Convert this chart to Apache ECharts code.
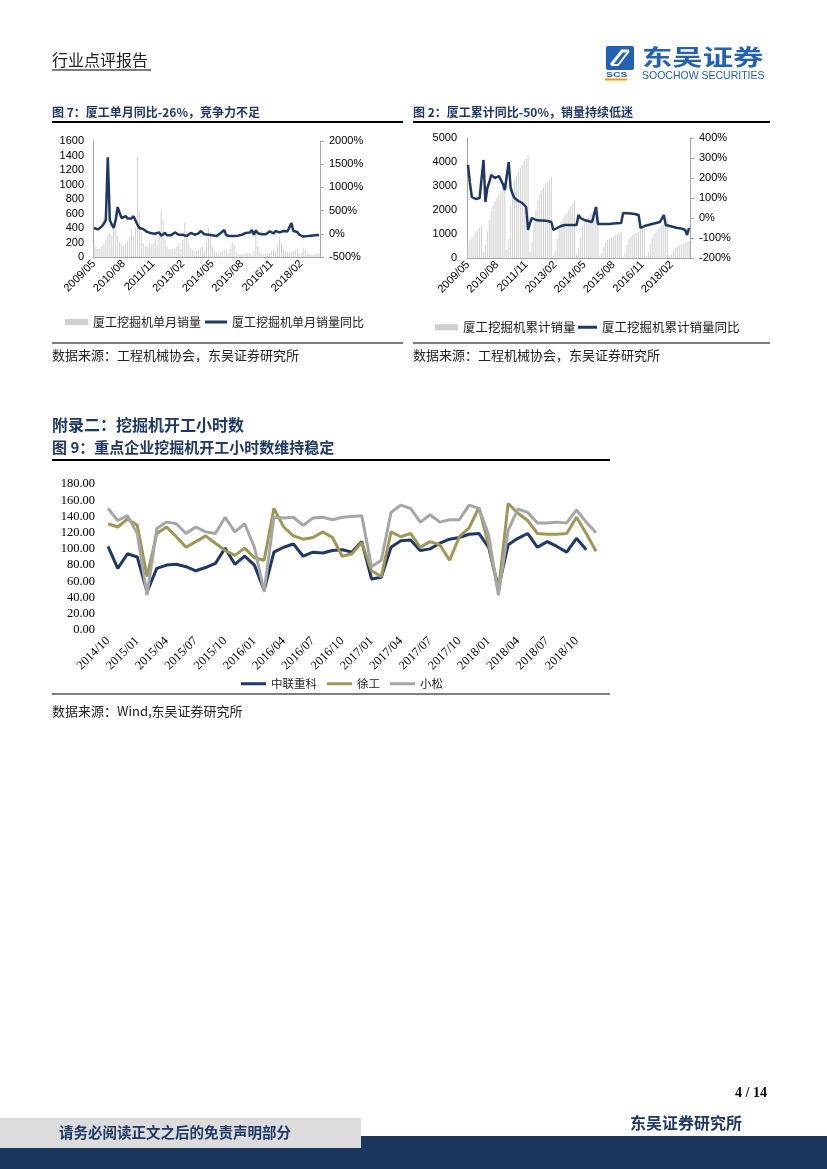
<!DOCTYPE html>
<html><head><meta charset="utf-8">
<script src="https://cdn.jsdelivr.net/npm/echarts@6/dist/echarts.min.js"></script>
<style>html,body{margin:0;padding:0;background:#fff}#c{width:827px;height:1169px}</style>
</head><body><div id="c"></div>
<script>
// ---------- DATA ----------
const monthsXG = [
'2009/05','2009/06','2009/07','2009/08','2009/09','2009/10','2009/11','2009/12',
'2010/01','2010/02','2010/03','2010/04','2010/05','2010/06','2010/07','2010/08','2010/09','2010/10','2010/11','2010/12',
'2011/01','2011/02','2011/03','2011/04','2011/05','2011/06','2011/07','2011/08','2011/09','2011/10','2011/11','2011/12',
'2012/01','2012/02','2012/03','2012/04','2012/05','2012/06','2012/07','2012/08','2012/09','2012/10','2012/11','2012/12',
'2013/01','2013/02','2013/03','2013/04','2013/05','2013/06','2013/07','2013/08','2013/09','2013/10','2013/11','2013/12',
'2014/01','2014/02','2014/03','2014/04','2014/05','2014/06','2014/07','2014/08','2014/09','2014/10','2014/11','2014/12',
'2015/01','2015/02','2015/03','2015/04','2015/05','2015/06','2015/07','2015/08','2015/09','2015/10','2015/11','2015/12',
'2016/01','2016/02','2016/03','2016/04','2016/05','2016/06','2016/07','2016/08','2016/09','2016/10','2016/11','2016/12',
'2017/01','2017/02','2017/03','2017/04','2017/05','2017/06','2017/07','2017/08','2017/09','2017/10','2017/11','2017/12',
'2018/01','2018/02','2018/03','2018/04','2018/05','2018/06','2018/07','2018/08','2018/09','2018/10','2018/11'];

// 厦工挖掘机单月销量 (台)
const salesMonthly = [
170,140,110,120,150,190,240,300,
330,290,440,380,290,210,170,150,190,220,270,380,
290,410,1380,640,340,190,150,140,190,170,190,240,
170,340,650,510,240,140,110,100,110,120,140,190,
110,230,480,360,200,120,90,80,90,100,120,140,
90,200,400,300,150,90,70,60,70,80,90,100,
60,110,200,170,80,50,40,40,45,50,60,70,
40,90,330,150,70,50,40,45,50,60,80,100,
70,150,280,200,110,80,70,60,70,80,90,110,
40,60,130,90,50,40,30,35,40,45,50];

// 厦工挖掘机单月销量同比 (%)
const yoyMonthly = [
125,100,95,100,160,220,300,1650,
300,200,125,300,577,450,340,360,380,330,290,330,
380,405,200,125,150,100,60,40,20,10,-10,0,
-20,30,-40,-20,20,-30,-50,-30,10,30,0,-20,
-40,-20,-30,-50,-10,20,60,-20,-40,10,60,20,
-10,-30,-20,-40,-30,-60,-50,-20,10,40,80,-30,
-40,-50,-60,-45,-50,-40,-30,-20,0,20,60,30,
80,-20,70,10,30,-10,-30,-10,20,50,40,10,
60,80,30,40,60,20,50,80,230,60,30,40,
-20,-50,-60,-40,-50,-60,-40,-50,-30,-40,-26];

// 厦工挖掘机累计销量 (台)
const salesCum = [
600,750,850,950,1050,1150,1250,1350,
250,550,1100,1600,1950,2200,2350,2500,2650,2800,2950,3150,
350,800,2200,2900,3250,3450,3600,3750,3900,4050,4150,4290,
250,650,1350,2000,2400,2650,2800,2950,3050,3150,3250,3350,
100,300,800,1250,1500,1650,1800,1900,2000,2150,2250,2400,
150,400,900,1300,1500,1600,1700,1800,1900,1950,2050,2150,
60,200,450,650,750,800,850,900,950,1000,1050,1100,
50,200,550,800,900,950,1000,1050,1100,1150,1250,1350,
80,250,600,850,1000,1100,1200,1300,1380,1450,1520,1600,
40,120,300,420,480,520,560,600,640,680,720];

// 厦工挖掘机累计销量同比 (%)
const yoyCum = [
265,175,105,100,95,100,100,110,
290,80,150,180,215,210,200,205,210,205,170,140,
150,280,150,120,100,90,85,80,75,65,55,-60,
-25,0,-10,-10,-12,-12,-12,-12,-10,-15,-15,-20,
-60,-55,-50,-45,-40,-35,-35,-35,-35,-35,-35,-35,
-35,15,0,-5,-10,-15,-15,-18,-20,-20,55,-30,
-30,-30,-30,-30,-30,-30,-28,-27,-27,-26,-25,-25,
25,25,24,23,22,22,20,18,15,-50,-45,-40,
-38,-35,-33,-30,-28,-25,-22,-20,-20,15,-35,-38,
-40,-42,-45,-48,-50,-50,-52,-55,-60,-85,-50];

// 图9 开工小时数
const months9 = ['2014/10','2014/11','2014/12',
'2015/01','2015/02','2015/03','2015/04','2015/05','2015/06','2015/07','2015/08','2015/09','2015/10','2015/11','2015/12',
'2016/01','2016/02','2016/03','2016/04','2016/05','2016/06','2016/07','2016/08','2016/09','2016/10','2016/11','2016/12',
'2017/01','2017/02','2017/03','2017/04','2017/05','2017/06','2017/07','2017/08','2017/09','2017/10','2017/11','2017/12',
'2018/01','2018/02','2018/03','2018/04','2018/05','2018/06','2018/07','2018/08','2018/09','2018/10','2018/11','2018/12'];
const zoomlion = [103,76,94,90,47,76,80,81,78,73,77,82,101,81,91,80,49,96,102,106,91,96,95,98,99,96,109,63,65,102,110,111,98,100,107,112,114,118,119,102,52,105,113,119,102,109,103,96,113,99,null];
const xcmg = [131,127,137,129,66,119,127,115,102,109,116,107,98,92,101,89,86,150,127,116,112,114,121,114,91,94,108,73,66,121,115,119,102,109,105,86,115,126,151,105,48,156,144,135,119,118,118,119,139,119,97];
const komatsu = [150,135,141,119,43,125,133,131,119,127,121,119,139,121,131,102,47,139,138,139,129,138,139,136,139,140,141,78,86,145,154,150,133,142,133,136,136,154,150,117,43,123,149,145,132,132,133,132,148,133,120];

// ---------- STYLE ----------
const NAVY = '#1f3864';
const CJK = '"Noto Sans CJK SC", sans-serif';
const SANS = '"Liberation Sans", Arial, sans-serif';
const SERIF = '"Liberation Serif", "Times New Roman", serif';
const GRAY_AX = '#a6a6a6';

function txt(x, y, t, size, opts) {
  opts = opts || {};
  return {type:'text', x:x, y:y, scaleX: opts.scaleX || 1, z:10,
    style:{text:t, fontSize:size, fontFamily:opts.family || CJK, fontWeight:opts.weight || 'normal',
      fill:opts.fill || '#000', align:opts.align || 'left', verticalAlign:'middle'}};
}
function hline(x1, x2, y, w, c) {
  return {type:'line', z:10, shape:{x1:x1, y1:y, x2:x2, y2:y}, style:{stroke:c || '#000', lineWidth:w}};
}

const graphic = [
  // header
  txt(52, 60, '行业点评报告', 16, {fill:'#222'}),
  hline(52, 151, 70, 1.5, '#555'),
  // logo
  {type:'rect', z:10, shape:{x:606, y:46, width:28, height:24, r:2}, style:{fill:'#2461b0'}},
  {type:'polyline', z:11, shape:{points:[[611,65],[622,51],[629,51]]}, style:{stroke:'#fff', lineWidth:3, fill:null}},
  {type:'polyline', z:11, shape:{points:[[611,65],[618,65],[629,51]]}, style:{stroke:'#fff', lineWidth:2, fill:null}},
  txt(606, 74.5, 'SCS', 8, {family:SANS, weight:'bold', fill:'#2461b0', scaleX:1.3}),
  {type:'rect', z:10, shape:{x:605, y:78.5, width:22, height:2}, style:{fill:'#f39800'}},
  txt(642, 57, '东吴证券', 22, {weight:'bold', fill:'#2461b0', scaleX:1.38}),
  txt(642, 76, 'SOOCHOW SECURITIES', 10.5, {family:SANS, fill:'#2461b0', scaleX:1.0}),

  // figure 7
  txt(52, 112, '图 7：厦工单月同比-26%，竞争力不足', 12, {weight:'bold', fill:NAVY}),
  hline(52, 403, 122, 2),
  hline(52, 403, 343, 1),
  txt(52, 355, '数据来源：工程机械协会，东吴证券研究所', 13, {fill:'#222'}),

  // figure 2
  txt(413, 112, '图 2：厦工累计同比-50%，销量持续低迷', 12, {weight:'bold', fill:NAVY}),
  hline(413, 770, 122, 2),
  hline(413, 770, 343, 1),
  txt(413, 355, '数据来源：工程机械协会，东吴证券研究所', 13, {fill:'#222'}),

  // appendix / figure 9
  txt(52, 425, '附录二：挖掘机开工小时数', 16, {weight:'bold', fill:NAVY}),
  txt(52, 447, '图 9：重点企业挖掘机开工小时数维持稳定', 15, {weight:'bold', fill:NAVY}),
  hline(52, 610, 460, 2),
  hline(52, 610, 694, 1),
  txt(52, 711, '数据来源：Wind,东吴证券研究所', 13, {fill:'#222'}),

  // footer
  txt(767, 1093, '4 / 14', 14, {family:SERIF, weight:'bold', align:'right'}),
  txt(630, 1123, '东吴证券研究所', 16, {fill:NAVY, weight:'bold'}),
  {type:'rect', z:5, shape:{x:0, y:1136, width:827, height:33}, style:{fill:'#1b365d'}},
  {type:'rect', z:6, shape:{x:0, y:1118, width:361, height:30}, style:{fill:'#dcdcdc'}},
  txt(59, 1132, '请务必阅读正文之后的免责声明部分', 14.5, {weight:'bold', fill:NAVY})
];

function legendFor(name, left, top, icon, w, h, size) {
  return {data:[name], left:left, top:top, icon:icon, itemWidth:w, itemHeight:h, itemGap:0,
    selectedMode:false, padding:0,
    textStyle:{fontSize:size, fontFamily:CJK, color:'#222'}};
}

const plain = function(v){ return String(v); };
const pct = function(v){ return v + '%'; };
const xLabelSmall = {interval:14, rotate:45, fontSize:11, color:'#000', fontFamily:SANS, margin:5};

const option = {
  animation:false,
  backgroundColor:'#fff',
  graphic: graphic,
  legend:[
    legendFor('厦工挖掘机单月销量', 65, 316, 'rect', 23, 6, 12),
    legendFor('厦工挖掘机单月销量同比', 205, 316, 'rect', 22, 3, 12),
    legendFor('厦工挖掘机累计销量', 435, 321, 'rect', 23, 6, 12.5),
    legendFor('厦工挖掘机累计销量同比', 578, 321, 'rect', 19, 3, 12.5),
    {data:['中联重科','徐工','小松'], left:241, top:678, icon:'rect', itemWidth:25, itemHeight:3, itemGap:10,
     selectedMode:false, padding:0, textStyle:{fontSize:11.5, fontFamily:CJK, color:'#222'}}
  ],
  grid:[
    {left:93, top:141, width:227, height:116},
    {left:467, top:138, width:223, height:120},
    {left:108, top:484, width:488, height:146}
  ],
  xAxis:[
    {gridIndex:0, type:'category', data:monthsXG, boundaryGap:true,
     axisLine:{lineStyle:{color:GRAY_AX}}, axisTick:{show:false}, axisLabel:xLabelSmall},
    {gridIndex:1, type:'category', data:monthsXG, boundaryGap:true,
     axisLine:{lineStyle:{color:GRAY_AX}}, axisTick:{show:false}, axisLabel:xLabelSmall},
    {gridIndex:2, type:'category', data:months9, boundaryGap:false,
     axisLine:{show:false}, axisTick:{show:false},
     axisLabel:{interval:2, rotate:45, fontSize:12.5, color:'#000', fontFamily:SERIF, margin:9}}
  ],
  yAxis:[
    {gridIndex:0, type:'value', min:0, max:1600, interval:200,
     axisLine:{show:true, lineStyle:{color:GRAY_AX}}, axisTick:{show:false}, splitLine:{show:false},
     axisLabel:{formatter:plain, fontSize:11, color:'#000', fontFamily:SANS, margin:9}},
    {gridIndex:0, type:'value', position:'right', min:-500, max:2000, interval:500,
     axisLine:{show:true, lineStyle:{color:GRAY_AX}}, axisTick:{show:true, length:4, lineStyle:{color:GRAY_AX}},
     splitLine:{show:false}, axisLabel:{formatter:pct, fontSize:11, color:'#000', fontFamily:SANS, margin:9}},
    {gridIndex:1, type:'value', min:0, max:5000, interval:1000,
     axisLine:{show:true, lineStyle:{color:GRAY_AX}}, axisTick:{show:false}, splitLine:{show:false},
     axisLabel:{formatter:plain, fontSize:11, color:'#000', fontFamily:SANS, margin:10}},
    {gridIndex:1, type:'value', position:'right', min:-200, max:400, interval:100,
     axisLine:{show:true, lineStyle:{color:GRAY_AX}}, axisTick:{show:true, length:4, lineStyle:{color:GRAY_AX}},
     splitLine:{show:false}, axisLabel:{formatter:pct, fontSize:11, color:'#000', fontFamily:SANS, margin:9}},
    {gridIndex:2, type:'value', min:0, max:180, interval:20,
     axisLine:{show:false}, axisTick:{show:false}, splitLine:{show:false},
     axisLabel:{formatter:function(v){return v.toFixed(2);}, fontSize:12.5, color:'#000', fontFamily:SERIF, margin:13}}
  ],
  series:[
    {name:'厦工挖掘机单月销量', type:'bar', xAxisIndex:0, yAxisIndex:0, data:salesMonthly,
     barWidth:1, itemStyle:{color:'#d0d0d0'}},
    {name:'厦工挖掘机单月销量同比', type:'line', xAxisIndex:0, yAxisIndex:1, data:yoyMonthly,
     symbol:'none', lineStyle:{color:NAVY, width:2.5}, itemStyle:{color:NAVY}},
    {name:'厦工挖掘机累计销量', type:'bar', xAxisIndex:1, yAxisIndex:2, data:salesCum,
     barWidth:1, itemStyle:{color:'#d0d0d0'}},
    {name:'厦工挖掘机累计销量同比', type:'line', xAxisIndex:1, yAxisIndex:3, data:yoyCum,
     symbol:'none', lineStyle:{color:NAVY, width:2.5}, itemStyle:{color:NAVY}},
    {name:'中联重科', type:'line', xAxisIndex:2, yAxisIndex:4, data:zoomlion,
     symbol:'none', lineStyle:{color:'#1f3864', width:3}, itemStyle:{color:'#1f3864'}},
    {name:'徐工', type:'line', xAxisIndex:2, yAxisIndex:4, data:xcmg,
     symbol:'none', lineStyle:{color:'#9e9758', width:3}, itemStyle:{color:'#9e9758'}},
    {name:'小松', type:'line', xAxisIndex:2, yAxisIndex:4, data:komatsu,
     symbol:'none', lineStyle:{color:'#a6a6a6', width:3}, itemStyle:{color:'#a6a6a6'}}
  ]
};

const chart = echarts.init(document.getElementById('c'), null, {renderer:'canvas'});
chart.setOption(option);
</script>
</body></html>
